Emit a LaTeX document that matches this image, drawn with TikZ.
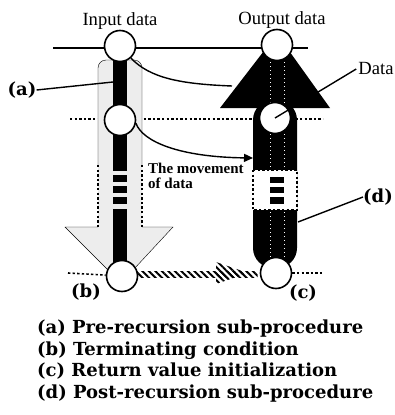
\documentclass[tikz,border=0pt]{standalone}
\usepackage{fontspec}
\setmainfont{Liberation Serif}
\newfontfamily\legendfont{DejaVu Serif}
\usepackage{xcolor}
\colorlet{cShade}{black!7}
\colorlet{cInk}{black}
\usepackage{tikz}
\usetikzlibrary{calc, arrows.meta, patterns.meta, backgrounds, positioning}
\tikzset{
	line width = 1.6pt,
	>={Triangle[length=9pt, width=8pt]},
	datum/.style={
		draw,
		circle,
		fill=white,
		line width=1.6pt,
		minimum size=31pt,
		inner sep=0pt
	},
	level/.style={line width=1.6pt},
	dots/.style={dash pattern=on 2.4pt off 2.2pt, line width=1.6pt},
	lane/.style={white, dash pattern=on 1pt off 3pt, line width=0.6pt},
	hatch/.style={pattern={Lines[angle=-45, distance=4.6pt, line width=2pt]}},
	pointer/.style={line width=1.4pt},
	caption/.style={font=\fontsize{18.6}{20}\selectfont, inner sep=0pt},
	mover/.style={font=\bfseries\fontsize{15}{15}\selectfont, inner sep=0pt, align=left},
	tag/.style={font=\legendfont\bfseries\fontsize{18}{20}\selectfont, inner sep=0pt},
	legend/.style={tag, anchor=base west}
}

\begin{document}
\begin{tikzpicture}[x=1pt, y=-1pt]
\useasboundingbox (0,0) rectangle (395,415);
% ---
% data points
% ---
\node[datum] (in-top) at (120,46) {};
\node[datum] (in-mid) at (120,120) {};
\node[datum] (in-bot) at (122,276) {};
\node[datum] (out-top) at (277,45) {};
\node[datum] (out-mid) at (275,118) {};
\node[datum] (out-bot) at (276,273) {};

\begin{scope}[on background layer]
% levels
\coordinate (top-l) at (53,48);
\coordinate (top-r) at (308,48);
\coordinate (mid-l) at (70,119);
\coordinate (mid-r) at (323,119);
\coordinate (bot-l) at (68,273);
\coordinate (bot-r) at (322,273);
\draw[level] (top-l) -- (top-r);
\draw[dots] (mid-l) -- (mid-r);
\draw[dots] (bot-l) -- (in-bot);
\draw[dots] (out-bot) -- (bot-r);

% input arrow (down)
\fill[cShade, rounded corners=8pt] (98,60) rectangle (142,240);
\fill[cShade] (65,227) -- (173,227) -- (121,283) -- cycle;
\draw[rounded corners=8pt] (98,165) -- (98,60) -- (142,60) -- (142,165);
\draw[dots] (98,165) -- (98,227);
\draw[dots] (142,165) -- (142,227);
\draw (98,227) -- (65,227) -- (121,283) -- (173,227) -- (142,227);
\fill (113,50) rectangle (127,171);
\fill (113,175) rectangle (127,182);
\fill (113,186) rectangle (127,193);
\fill (113,197) rectangle (127,204);
\fill (113,209) rectangle (127,268);

% output arrow (up)
\fill (277,34) -- (330,108) -- (220,108) -- cycle;
\fill[rounded corners=20pt] (253,100) rectangle (297,268);
\draw[lane] (270,62) -- (270,168) (270,212) -- (270,262);
\draw[lane] (284,62) -- (284,168) (284,212) -- (284,262);
\filldraw[fill=white, dots, line width=1.2pt] (253,170) rectangle (297,210);
\fill (270,177) rectangle (284,183);
\fill (270,187) rectangle (284,193);
\fill (270,197) rectangle (284,204);

% return of the value
\fill[hatch] ($(in-bot.east)+(-2,-5)$) rectangle ($(out-bot.west)+(-2,4)$);
\fill[hatch] (216,262) -- (248,273) -- (216,284) -- cycle;
\end{scope}

% ---
% movements
% ---
\coordinate (tri-in) at (232,86);
\coordinate (shaft-in) at (253,158);
\draw[pointer] (in-top.-48) .. controls (150,78) and (180,84) .. (tri-in);
\draw[pointer, ->] (in-mid.-12) .. controls (143,142) and (180,157) .. (shaft-in);

% ---
% labels
% ---
\node[caption, above=0pt of in-top] (in-label) {Input data};
\node[caption, above=0pt of out-top, xshift=5pt] (out-label) {Output data};
\node[caption, inner sep=2pt] (data) at (376,69) {Data};
\draw[pointer] (out-mid.center) -- (data.west);
\node[mover, anchor=north west] (move-label) at (148,163) {The movement\\of data};

\coordinate (bar-a) at (113,82);
\coordinate (bar-d) at (298,222);
\node[tag] (lab-a) at (22,90) {(a)};
\node[tag] (lab-b) at (86,292) {(b)};
\node[tag] (lab-c) at (303,293) {(c)};
\node[tag] (lab-d) at (378,197) {(d)};
\draw[pointer] (lab-a.east) -- (bar-a);
\draw[pointer] (lab-d.west) -- (bar-d);

% ---
% legend
% ---
\node[legend] (leg-a) at (37,333) {(a) Pre-recursion sub-procedure};
\node[legend] (leg-b) at (37,355) {(b) Terminating condition};
\node[legend] (leg-c) at (37,376) {(c) Return value initialization};
\node[legend] (leg-d) at (37,398) {(d) Post-recursion sub-procedure};
\end{tikzpicture}
\end{document}
